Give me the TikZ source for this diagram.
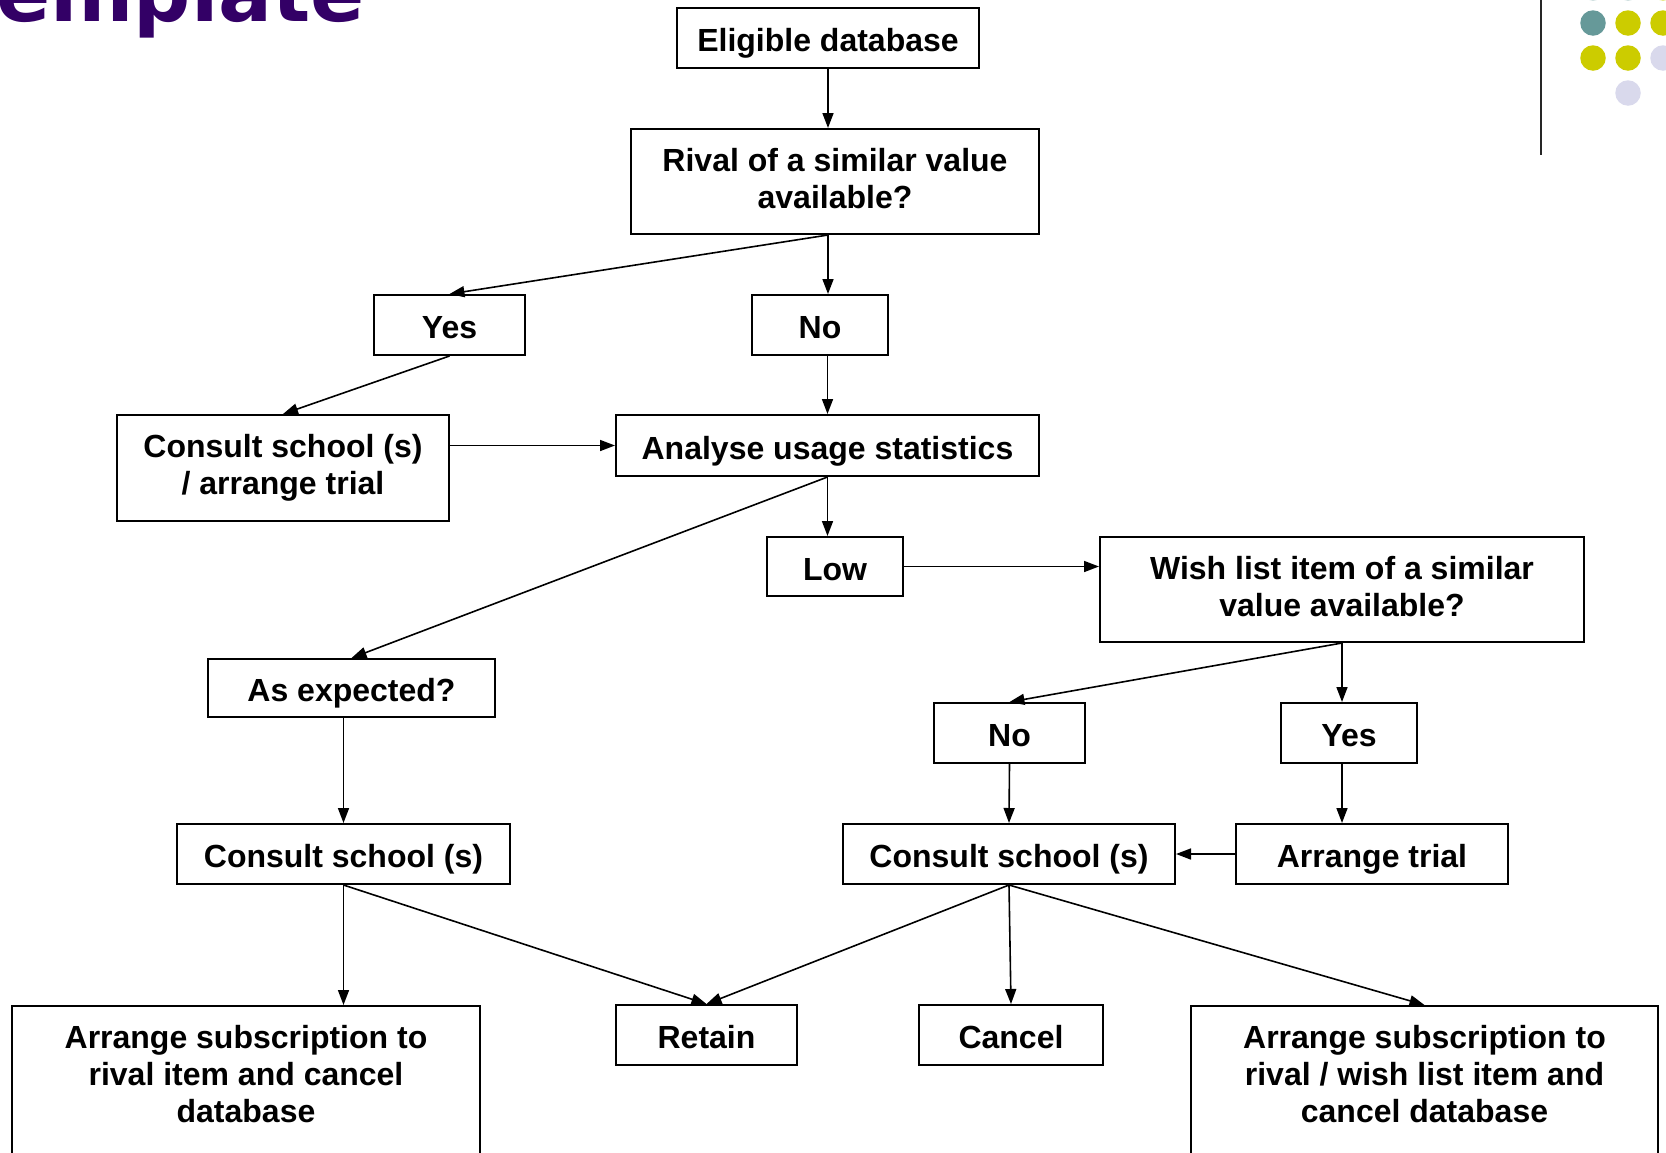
\documentclass[tikz,border=0pt]{standalone}
\usepackage{fontspec}
\setmainfont{Liberation Sans}
\newfontfamily\titlefont{DejaVu Sans}
\usetikzlibrary{arrows.meta}
\definecolor{titlepurple}{RGB}{51,0,102}
\definecolor{dotteal}{RGB}{102,153,153}
\definecolor{dotyellow}{RGB}{204,204,0}
\definecolor{dotlav}{RGB}{217,217,236}
\begin{document}
\begin{tikzpicture}[x=1pt,y=-1pt,
  box/.style={draw=black, line width=2pt, rectangle, inner sep=0pt, align=center,
    font=\fontsize{32}{37}\selectfont\bfseries},
  onel/.style={box, text height=27pt, text depth=0pt},
  txt/.style={inner sep=0pt, align=center, font=\fontsize{32}{37}\selectfont\bfseries},
  conn/.style={line width=1.6pt, -{Triangle[length=15pt,width=11pt]}},
  dot/.style={circle, fill, inner sep=0pt, minimum size=25.5pt}]
\useasboundingbox (0,0) rectangle (1666,1152);
\clip (0,0) rectangle (1666,1152);

% title fragment and decorations
\node[anchor=base west, inner sep=0pt, text=titlepurple,
  font=\titlefont\bfseries\fontsize{80}{82}\selectfont] (title) at (-4,21) {emplate};
\draw[line width=2pt, color=black!85] (1541,0) coordinate (vtop) -- (1541,155) coordinate (vbot);
\node[dot, fill=dotteal!40] (d01) at (1593,-12) {};
\node[dot, fill=dotteal!40] (d02) at (1628,-12) {};
\node[dot, fill=dotyellow!60] (d03) at (1663,-12) {};
\node[dot, fill=dotteal] (d11) at (1593,23) {};
\node[dot, fill=dotyellow] (d12) at (1628,23) {};
\node[dot, fill=dotyellow] (d13) at (1663,23) {};
\node[dot, fill=dotyellow] (d21) at (1593,58) {};
\node[dot, fill=dotyellow] (d22) at (1628,58) {};
\node[dot, fill=dotlav] (d23) at (1663,58) {};
\node[dot, fill=dotlav] (d32) at (1628,93) {};

% boxes
\node[onel, minimum width=302, minimum height=60] (elig) at (828,38) {Eligible database};
\node[box, minimum width=408, minimum height=105] (rival) at (835,181.5) {Rival of a similar value\\available?\vphantom{g}};
\node[onel, minimum width=151, minimum height=60] (yes1) at (449.5,325) {Yes};
\node[onel, minimum width=136, minimum height=60] (no1) at (820,325) {No};
\node[box, minimum width=332, minimum height=106] (cst1) at (283,468) {Consult school (s)\\/ arrange trial};
\node[onel, minimum width=423, minimum height=61] (analyse) at (827.5,445.5) {Analyse usage statistics};
\node[onel, minimum width=136, minimum height=59] (low) at (835,566.5) {Low};
\node[box, minimum width=484, minimum height=105] (wish) at (1342,589.5) {Wish list item of a similar\\value available?\vphantom{g}};
\node[onel, minimum width=287, minimum height=58] (asexp) at (351.5,688) {As expected?};
\node[onel, minimum width=151, minimum height=60] (no2) at (1009.5,733) {No};
\node[onel, minimum width=136, minimum height=60] (yes2) at (1349,733) {Yes};
\node[onel, minimum width=333, minimum height=60] (cs2) at (343.5,854) {Consult school (s)};
\node[onel, minimum width=332, minimum height=60] (cs3) at (1009,854) {Consult school (s)};
\node[onel, minimum width=272, minimum height=60] (trial) at (1372,854) {Arrange trial};
\node[box, minimum width=468, minimum height=200, anchor=north] (subL) at (246,1005) {};
\node[txt] (subLtext) at (246,1074) {Arrange subscription to\\rival item and cancel\\database};
\node[onel, minimum width=181, minimum height=60] (retain) at (706.5,1035) {Retain};
\node[onel, minimum width=184, minimum height=60] (cancel) at (1011,1035) {Cancel};
\node[box, minimum width=467, minimum height=200, anchor=north] (subR) at (1424.5,1005) {};
\node[txt] (subRtext) at (1424.5,1074) {Arrange subscription to\\rival / wish list item and\\cancel database};

% connectors
\draw[conn] (elig.south) -- (elig.south |- rival.north);
\draw[conn] (rival.south -| elig.south) -- (yes1.north);
\draw[conn] (rival.south -| elig.south) -- (elig.south |- no1.north);
\draw[conn] (yes1.south) -- (cst1.north);
\draw[conn] (analyse.north |- no1.south) -- (analyse.north);
\draw[conn] (cst1.east |- analyse.west) -- (analyse.west);
\draw[conn] (analyse.south) -- (analyse.south |- low.north);
\draw[conn] (analyse.south) -- (asexp.north);
\draw[conn] (low.east) -- (low.east -| wish.west);
\draw[conn] (wish.south) -- (no2.north);
\draw[conn] (wish.south) -- (wish.south |- yes2.north);
\draw[conn] (no2.south) -- (cs3.north);
\draw[conn] (wish.south |- yes2.south) -- (wish.south |- trial.north);
\draw[conn] (trial.west) -- (cs3.east);
\draw[conn] (cs2.north |- asexp.south) -- (cs2.north);
\draw[conn] (cs2.south) -- (cs2.south |- subL.north);
\draw[conn] (cs2.south) -- (retain.north);
\draw[conn] (cs3.south) -- (retain.north);
\draw[conn] (cs3.south) -- (cancel.north);
\draw[conn] (cs3.south) -- (subR.north);
\end{tikzpicture}
\end{document}
